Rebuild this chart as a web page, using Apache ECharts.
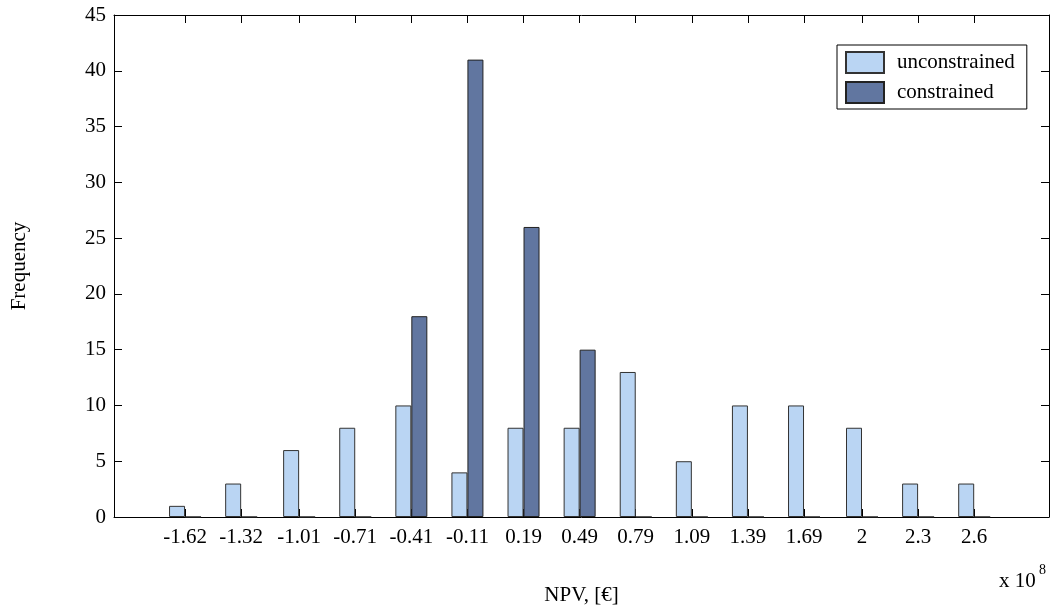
<!DOCTYPE html>
<html><head><meta charset="utf-8">
<script src="https://cdn.jsdelivr.net/npm/echarts@6/dist/echarts.min.js"></script>
<style>html,body{margin:0;padding:0;background:#fff}#c{width:1053px;height:611px}</style>
</head><body><div id="c"></div>
<script>
var binCenters = [-1.62,-1.32,-1.01,-0.71,-0.41,-0.11,0.19,0.49,0.79,1.09,1.39,1.69,2,2.3,2.6];
var unconstrained = [1,3,6,8,10,4,8,8,13,5,10,10,8,3,3];
var constrained = [0,0,0,0,18,41,26,15,0,0,0,0,0,0,0];
var yTicks = [0,5,10,15,20,25,30,35,40,45];

var font = 'Liberation Serif';
var fs = 21;
function pairs(vals){ return binCenters.map(function(x,i){ return [x, vals[i]]; }); }

var chart = echarts.init(document.getElementById('c'));
chart.setOption({
  animation:false,
  textStyle:{fontFamily:font},
  grid:{left:114, top:15, right:4, bottom:94, containLabel:false},
  legend:{
    left:837, top:45, orient:'vertical',
    data:['unconstrained','constrained'],
    itemWidth:38, itemHeight:21, itemGap:7,
    padding:[6,12,5,8],
    borderColor:'#000', borderWidth:1, backgroundColor:'#fff',
    textStyle:{fontFamily:font, fontSize:fs, color:'#000', padding:[0,0,0,8]},
    icon:'rect'
  },
  xAxis:[{
    type:'value', min:-2, max:3, position:'bottom',
    axisLine:{show:true, onZero:false, lineStyle:{color:'#000', width:1}},
    axisTick:{show:true, inside:true, length:8, customValues:binCenters, lineStyle:{color:'#000'}},
    axisLabel:{show:true, customValues:binCenters, color:'#000', fontFamily:font, fontSize:fs, margin:10,
      formatter:function(v){ return String(v); }},
    splitLine:{show:false},
    name:'NPV, [€]', nameLocation:'middle', nameGap:68,
    nameTextStyle:{fontFamily:font, fontSize:fs, color:'#000'}
  },{
    type:'value', min:-2, max:3, position:'top',
    axisLine:{show:true, onZero:false, lineStyle:{color:'#000', width:1}},
    axisTick:{show:true, inside:true, length:8, customValues:binCenters, lineStyle:{color:'#000'}},
    axisLabel:{show:false}, splitLine:{show:false}
  }],
  yAxis:[{
    type:'value', min:0, max:45, interval:5, position:'left',
    axisLine:{show:true, onZero:false, lineStyle:{color:'#000', width:1}},
    axisTick:{show:true, inside:true, length:8, lineStyle:{color:'#000'}},
    axisLabel:{color:'#000', fontFamily:font, fontSize:fs, margin:8},
    splitLine:{show:false},
    name:'Frequency', nameLocation:'middle', nameGap:84, nameRotate:90,
    nameTextStyle:{fontFamily:font, fontSize:fs, color:'#000'}
  },{
    type:'value', min:0, max:45, interval:5, position:'right',
    axisLine:{show:true, onZero:false, lineStyle:{color:'#000', width:1}},
    axisTick:{show:true, inside:true, length:8, lineStyle:{color:'#000'}},
    axisLabel:{show:false}, splitLine:{show:false}
  }],
  graphic:[{
    type:'text', left:999, top:571,
    style:{text:'x 10', fontFamily:font, fontSize:fs, fill:'#000'}
  },{
    type:'text', left:1039, top:563,
    style:{text:'8', fontFamily:font, fontSize:14, fill:'#000'}
  }],
  series:[{
    name:'unconstrained', type:'bar', data:pairs(unconstrained),
    barWidth:16, barGap:'0%',
    itemStyle:{color:'#bad5f3', borderColor:'#333', borderWidth:1}
  },{
    name:'constrained', type:'bar', data:pairs(constrained),
    barWidth:16, barGap:'0%',
    itemStyle:{color:'#6176a0', borderColor:'#222', borderWidth:1}
  }]
});
</script></body></html>
